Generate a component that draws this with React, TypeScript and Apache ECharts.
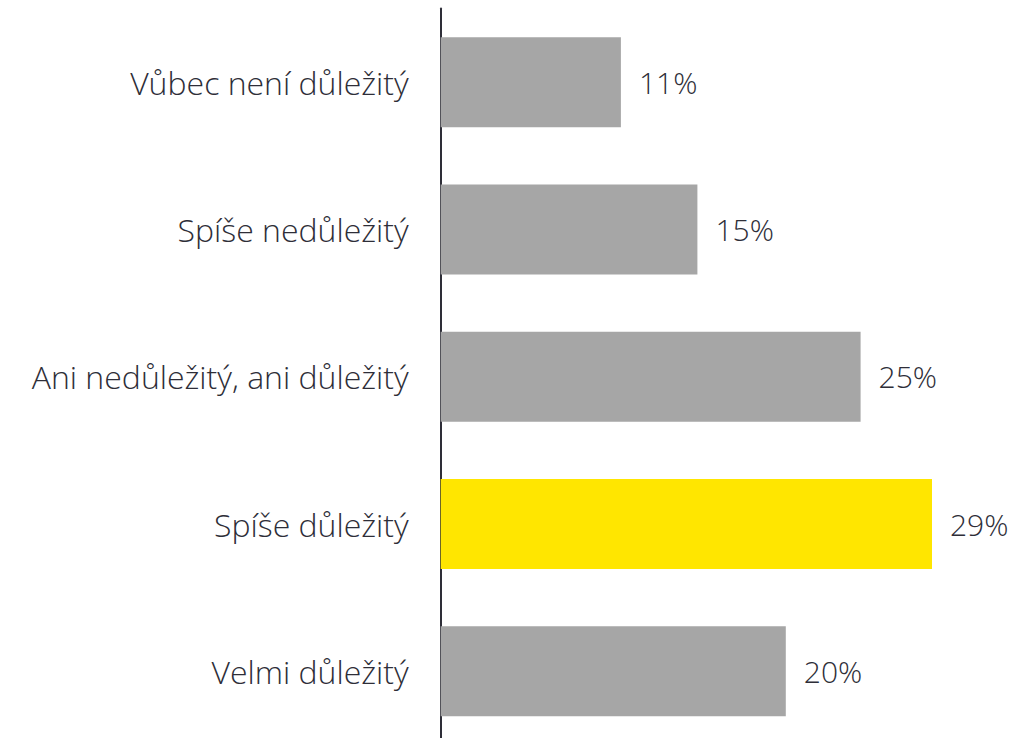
import React, { useEffect, useRef } from "react";
import * as echarts from "echarts";

const categories = [
  "Vůbec není důležitý",
  "Spíše nedůležitý",
  "Ani nedůležitý, ani důležitý",
  "Spíše důležitý",
  "Velmi důležitý",
];
const values = [10.6, 15.1, 24.7, 28.9, 20.3];
const highlighted = [false, false, false, true, false];

const GREY = "#a6a6a6";
const YELLOW = "#ffe600";
const TEXT = "#2e2e38";
const FONT = "'Open Sans', 'Noto Sans', sans-serif";

export default function App() {
  const ref = useRef<HTMLDivElement>(null);
  useEffect(() => {
    document.body.style.margin = "0";
    const chart = echarts.init(ref.current!, null, { renderer: "svg" });
    chart.setOption({
      animation: false,
      grid: { left: 440.7, right: 62.3, top: 8.5, bottom: 0, containLabel: false },
      xAxis: {
        type: "value",
        min: 0,
        max: 30,
        show: false,
      },
      yAxis: {
        type: "category",
        data: categories,
        inverse: true,
        axisLine: { show: true, lineStyle: { color: TEXT, width: 2 } },
        axisTick: { show: false },
        axisLabel: {
          color: TEXT,
          fontSize: 32,
          fontWeight: 300,
          fontFamily: FONT,
          margin: 32,
        },
      },
      series: [
        {
          type: "bar",
          barWidth: 90,
          data: values.map((v, i) => ({
            value: v,
            itemStyle: { color: highlighted[i] ? YELLOW : GREY },
          })),
          label: {
            show: true,
            position: "right",
            distance: 18,
            color: TEXT,
            fontSize: 30,
            fontWeight: 300,
            fontFamily: FONT,
            formatter: (p: any) => Math.round(p.value) + "%",
          },
        },
      ],
    });
    return () => chart.dispose();
  }, []);
  return <div ref={ref} style={{ width: 1013, height: 745 }} />;
}
